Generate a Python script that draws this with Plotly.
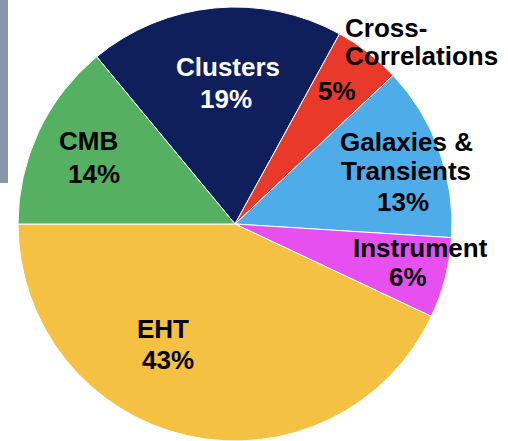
import plotly.graph_objects as go

# ---- data ----
labels = ["Clusters", "Cross-Correlations", "Galaxies & Transients", "Instrument", "EHT", "CMB"]
values = [19, 5, 13, 6, 43, 14]
label_lines = [["Clusters"], ["Cross-", "Correlations"], ["Galaxies &", "Transients"],
               ["Instrument"], ["EHT"], ["CMB"]]

# ---- styles ----
colors = ["#0e1f5c", "#e8392a", "#4eade8", "#e84ff0", "#f4c143", "#56b062"]
text_colors = ["white", "black", "black", "black", "black", "black"]

W, H = 508, 441
cx, cy, R = 235, 224, 217

# label line positions in pixels (x, y of line centre), name lines then percent line
line_pos = [
    [(227.5, 66.5), (225.5, 99)],
    [(343, 28), (343, 55.5), (336.7, 91)],
    [(406.7, 142), (406, 171), (402.5, 202)],
    [(420, 248), (407.5, 277)],
    [(162.5, 328.7), (168.3, 359.5)],
    [(88.3, 141), (94, 174)],
]
left_aligned = [False, True, False, False, False, False]

fig = go.Figure(go.Pie(
    labels=labels, values=values, sort=False, direction="clockwise",
    rotation=-39.6, textinfo="none", hoverinfo="label+percent",
    marker=dict(colors=colors, line=dict(color="white", width=1)),
    domain=dict(x=[(cx - R) / W, (cx + R) / W], y=[(H - cy - R) / H, (H - cy + R) / H]),
    showlegend=False,
))

annotations = []
font_family = "Liberation Sans, Arial, Helvetica, sans-serif"
for i, lines in enumerate(label_lines):
    texts = lines + [f"{values[i]}%"]
    for j, t in enumerate(texts):
        px, py = line_pos[i][j]
        anchor = "left" if (left_aligned[i] and j < len(lines)) else "center"
        annotations.append(dict(
            text=t, x=px / W, y=1 - py / H, xref="paper", yref="paper",
            xanchor=anchor, yanchor="middle", showarrow=False, height=26,
            font=dict(family=font_family, size=26, color=text_colors[i], weight="bold"),
        ))

fig.update_layout(
    width=W, height=H, margin=dict(l=0, r=0, t=0, b=0),
    paper_bgcolor="white", plot_bgcolor="white",
    annotations=annotations,
    shapes=[dict(type="rect", xref="paper", yref="paper", x0=0, x1=8 / W,
                 y0=1 - 183 / H, y1=1, fillcolor="#8796a4", line=dict(width=0), layer="below")],
)

fig.write_html("out.html", config={"displayModeBar": False},
               post_script="document.body.style.margin='0';")
